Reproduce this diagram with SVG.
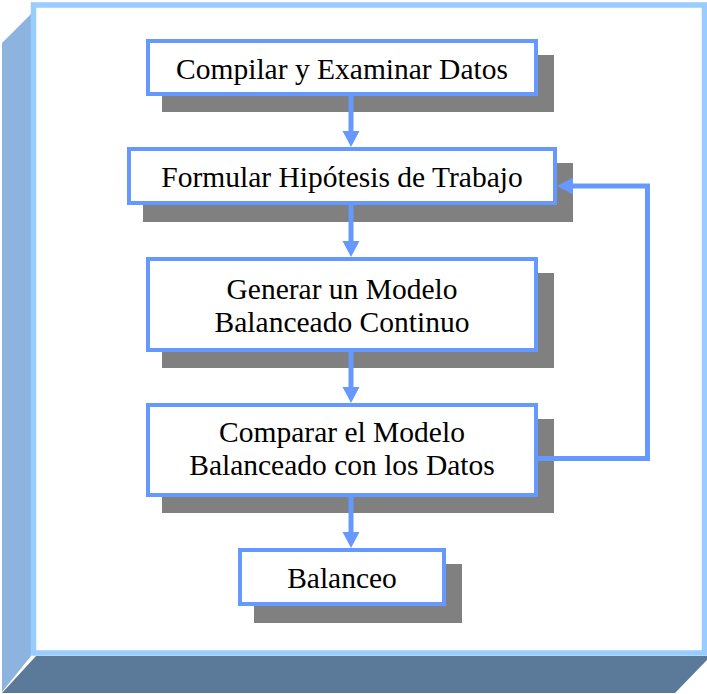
<svg xmlns="http://www.w3.org/2000/svg" width="707" height="694" viewBox="0 0 707 694">
<defs>
<style>
.shadow{fill:#808080;}
.box{fill:#FFFFFF;stroke:#6699FF;stroke-width:4;}
.lbl{font-family:"Liberation Serif","Times New Roman",serif;font-size:29.5px;fill:#000000;text-anchor:middle;}
.conn{fill:none;stroke:#6699FF;stroke-width:5;}
.head{fill:#6699FF;}
</style>
</defs>
<rect width="707" height="694" fill="#FFFFFF"/>
<g id="frame">
<polygon points="2,43 31,14 31,656 2,692" fill="#8DB4DE"/>
<polygon points="2,693 36,656 707,656 707,660 675,693" fill="#5B7A99"/>
<rect x="33.5" y="5" width="671" height="648" fill="#FFFFFF" stroke="#99CCFF" stroke-width="5.5"/>
</g>
<g id="node-compilar">
<rect class="shadow" x="162" y="55" width="392" height="57"/>
<rect class="box" x="148" y="41" width="388" height="53"/>
<text class="lbl" x="342" y="79">Compilar y Examinar Datos</text>
</g>
<g id="node-formular">
<rect class="shadow" x="143" y="163" width="430" height="59"/>
<rect class="box" x="129" y="149" width="426" height="54"/>
<text class="lbl" x="342" y="187">Formular Hipótesis de Trabajo</text>
</g>
<g id="node-generar">
<rect class="shadow" x="162" y="273" width="392" height="95"/>
<rect class="box" x="148" y="259" width="388" height="91"/>
<text class="lbl" x="342" y="299">Generar un Modelo</text>
<text class="lbl" x="342" y="332">Balanceado Continuo</text>
</g>
<g id="node-comparar">
<rect class="shadow" x="162" y="419" width="392" height="94"/>
<rect class="box" x="148" y="405" width="388" height="90"/>
<text class="lbl" x="342" y="442">Comparar el Modelo</text>
<text class="lbl" x="342" y="475">Balanceado con los Datos</text>
</g>
<g id="node-balanceo">
<rect class="shadow" x="254" y="564" width="208" height="59"/>
<rect class="box" x="240" y="550" width="204" height="54"/>
<text class="lbl" x="342" y="588">Balanceo</text>
</g>
<g id="connectors">
<line class="conn" x1="351" y1="96" x2="351" y2="132"/>
<polygon class="head" points="342.5,131 359.5,131 351,147"/>
<line class="conn" x1="351" y1="205" x2="351" y2="242"/>
<polygon class="head" points="342.5,241 359.5,241 351,257"/>
<line class="conn" x1="351" y1="352" x2="351" y2="388"/>
<polygon class="head" points="342.5,387 359.5,387 351,403"/>
<line class="conn" x1="351" y1="497" x2="351" y2="533"/>
<polygon class="head" points="342.5,532 359.5,532 351,548"/>
<polyline class="conn" points="538,458.5 647.5,458.5 647.5,186 572,186"/>
<polygon class="head" points="573,177.5 573,194.5 557,186"/>
</g>
</svg>
